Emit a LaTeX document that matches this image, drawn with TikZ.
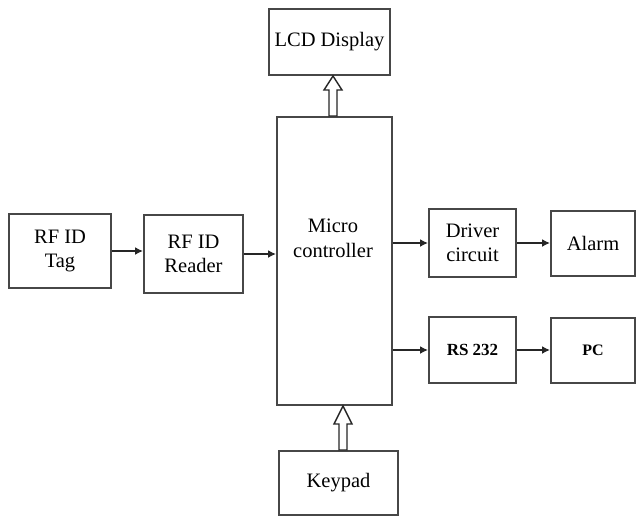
\documentclass[tikz,border=0pt]{standalone}
\usepackage{fontspec}
\setmainfont{Liberation Serif}
\usetikzlibrary{arrows.meta,calc}
\begin{document}
\begin{tikzpicture}[x=1pt,y=-1pt,
  blk/.style={draw=black!72,line width=2pt,inner sep=0pt,align=center,font=\fontsize{20.5}{24}\selectfont},
  txt/.style={inner sep=0pt,align=center,font=\fontsize{20.5}{25}\selectfont},
  conn/.style={draw=black!85,line width=1.5pt,-{Latex[length=8pt,width=8pt]}},
  hollow/.style={draw=black!85,line width=1.4pt,fill=white,line join=miter}]
\useasboundingbox (0,0) rectangle (636,517);
\node[blk,minimum width=121pt,minimum height=66pt] (lcd) at (329.5,42) {LCD Display};
\node[blk,minimum width=115pt,minimum height=288pt] (micro) at (334.5,261) {};
\node[txt] (mctext) at (333,238) {Micro\\controller};
\node[blk,minimum width=102pt,minimum height=74pt] (tag) at (60,251) {RF ID\\Tag};
\node[blk,minimum width=99pt,minimum height=78pt] (reader) at (193.5,254) {RF ID\\Reader};
\node[blk,minimum width=87pt,minimum height=68pt] (driver) at (472.5,243) {Driver\\circuit};
\node[blk,minimum width=84pt,minimum height=65pt] (alarm) at (593,243.5) {Alarm};
\node[blk,minimum width=87pt,minimum height=66pt,font=\fontsize{17}{20}\selectfont\bfseries] (rs) at (472.5,350) {RS 232};
\node[blk,minimum width=84pt,minimum height=65pt,font=\fontsize{16}{20}\selectfont\bfseries] (pc) at (593,350.5) {PC};
\node[blk,minimum width=119pt,minimum height=64pt] (keypad) at (338.5,483) {Keypad};
% connectors
\draw[conn] (tag.east) -- (tag.east -| reader.west);
\draw[conn] (reader.east) -- (reader.east -| micro.west);
\draw[conn] (micro.east |- driver.west) -- (driver.west);
\draw[conn] (driver.east) -- (driver.east -| alarm.west);
\draw[conn] (micro.east |- rs.west) -- (rs.west);
\draw[conn] (rs.east) -- (rs.east -| pc.west);
% hollow arrows
\coordinate (lcdtip) at ($(lcd.south)+(3.5,0)$);
\coordinate (kptip) at ($(micro.south)+(8.5,0)$);
\draw[hollow] (lcdtip) -- ++(9,14) -- ++(-5,0)
  -- ($(lcdtip |- micro.north)+(4,0)$) -- ($(lcdtip |- micro.north)+(-4,0)$)
  -- ($(lcdtip)+(-4,14)$) -- ++(-5,0) -- cycle;
\draw[hollow] (kptip) -- ++(9,18) -- ++(-5,0)
  -- ($(kptip |- keypad.north)+(4,0)$) -- ($(kptip |- keypad.north)+(-4,0)$)
  -- ($(kptip)+(-4,18)$) -- ++(-5,0) -- cycle;
\end{tikzpicture}
\end{document}
